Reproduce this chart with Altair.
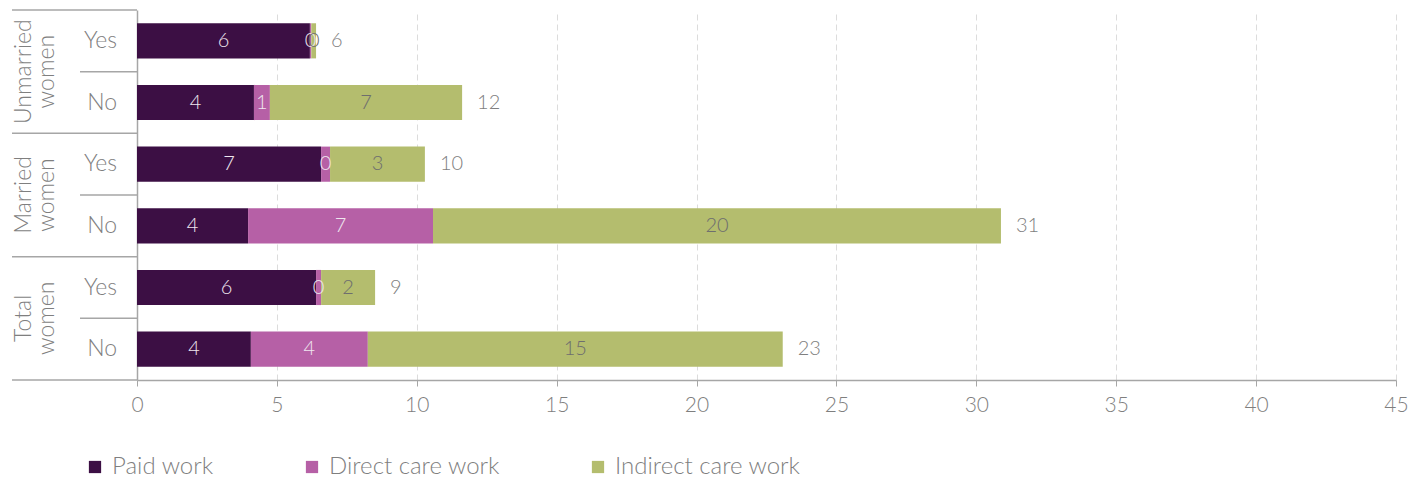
import altair as alt
import pandas as pd

# ---- data ----
groups = ["Unmarried women", "Unmarried women", "Married women", "Married women", "Total women", "Total women"]
answers = ["Yes", "No", "Yes", "No", "Yes", "No"]
paid = [6.18, 4.18, 6.58, 3.97, 6.40, 4.07]
direct = [0.05, 0.57, 0.32, 6.61, 0.18, 4.18]
indirect = [0.17, 6.87, 3.39, 20.30, 1.93, 14.83]
categories = ["Paid work", "Direct care work", "Indirect care work"]
colors = ["#3c0f44", "#b660a6", "#b4bd6e"]
group_names = ["Unmarried\nwomen", "Married\nwomen", "Total\nwomen"]

FONT = "Lato"
GRAY = "#7f7f7f"
LINE = "#a6a6a6"

rows = pd.DataFrame({
    "idx": list(range(len(answers))),
    "group": groups,
    "answer": answers,
    "total": [p + d + i for p, d, i in zip(paid, direct, indirect)],
})
rows["ym"] = rows["idx"] + 0.5

long_rows = []
for k in range(len(answers)):
    for c, (cat, vals) in enumerate(zip(categories, [paid, direct, indirect])):
        long_rows.append({"idx": k, "category": cat, "cat_order": c, "value": vals[k]})
long = pd.DataFrame(long_rows)

grp = pd.DataFrame({"name": group_names, "yc": [1, 3, 5]})
major = pd.DataFrame({"y": [0, 2, 4, 6]})
minor = pd.DataFrame({"y": [1, 3, 5]})

yscale = alt.Scale(domain=[0, 6], reverse=True, nice=False, zero=False)
xscale = alt.Scale(domain=[0, 45], nice=False)

stacked = alt.Chart(long).transform_stack(
    stack="value", groupby=["idx"], as_=["x0", "x1"],
    sort=[alt.SortField("cat_order", order="ascending")]
).transform_calculate(
    y0="datum.idx + 0.215", y1="datum.idx + 0.785",
    xm="(datum.x0 + datum.x1) / 2", ym="datum.idx + 0.5",
    lbl="format(datum.value, '.0f')"
)

bars = stacked.mark_bar(strokeWidth=0).encode(
    x=alt.X("x0:Q", scale=xscale,
            axis=alt.Axis(values=list(range(0, 46, 5)), title=None, grid=True,
                          gridColor="#dcdcdc", gridDash=[6, 4], gridWidth=1,
                          domainColor=LINE, domainWidth=1.5, tickColor=LINE, tickSize=6,
                          labelColor=GRAY, labelFontSize=21, labelFont=FONT,
                          labelFontWeight=300, labelPadding=8, labelFlush=False)),
    x2="x1:Q",
    y=alt.Y("y0:Q", scale=yscale,
            axis=alt.Axis(labels=False, ticks=False, grid=False, domain=True,
                          domainColor=LINE, domainWidth=1.5, title=None)),
    y2="y1:Q",
    color=alt.Color("category:N", scale=alt.Scale(domain=categories, range=colors),
                    sort=categories,
                    legend=alt.Legend(title=None, orient="none", direction="horizontal",
                                      legendX=-54, legendY=445, symbolType="square",
                                      symbolSize=150, symbolStrokeWidth=0, padding=0,
                                      labelFontSize=24, labelFont=FONT, labelFontWeight=300,
                                      labelColor=GRAY, columnPadding=86, labelOffset=5,
                                      labelLimit=400)),
)

seg_text = stacked.mark_text(font=FONT, fontSize=20, fontWeight=300, baseline="middle").encode(
    x=alt.X("xm:Q", scale=xscale),
    y=alt.Y("ym:Q", scale=yscale),
    text="lbl:N",
    color=alt.condition("datum.category == 'Indirect care work'",
                        alt.value("#6e6e6e"), alt.value("#efe6ef")),
)

tot_text = alt.Chart(rows).transform_calculate(
    lbl="format(datum.total, '.0f')"
).mark_text(font=FONT, fontSize=20, fontWeight=300, align="left", baseline="middle",
            dx=15, color=GRAY).encode(
    x=alt.X("total:Q", scale=xscale),
    y=alt.Y("ym:Q", scale=yscale),
    text="lbl:N",
)

ans_text = alt.Chart(rows).mark_text(font=FONT, fontSize=23, fontWeight=300, align="right",
                                     baseline="middle", color=GRAY).encode(
    x=alt.value(-20),
    y=alt.Y("ym:Q", scale=yscale),
    text="answer:N",
)

grp_text = alt.Chart(grp).mark_text(font=FONT, fontSize=23, fontWeight=300, align="center",
                                    baseline="middle", angle=270, lineBreak="\n",
                                    lineHeight=23, color=GRAY).encode(
    x=alt.value(-113),
    y=alt.Y("yc:Q", scale=yscale),
    text="name:N",
)

major_rule = alt.Chart(major).mark_rule(color=LINE, strokeWidth=1.5).encode(
    x=alt.value(-125), x2=alt.value(0), y=alt.Y("y:Q", scale=yscale))
minor_rule = alt.Chart(minor).mark_rule(color=LINE, strokeWidth=1.5).encode(
    x=alt.value(-57), x2=alt.value(0), y=alt.Y("y:Q", scale=yscale))

chart = alt.layer(bars, seg_text, tot_text, ans_text, grp_text, major_rule, minor_rule).properties(
    width=1259, height=370,
    autosize=alt.AutoSizeParams(type="none"),
    padding={"left": 129, "top": 2, "right": 20, "bottom": 98},
).configure(font=FONT).configure_view(strokeWidth=0, stroke=None)

chart.save("out.html", embed_options={"renderer": "svg", "actions": False})
